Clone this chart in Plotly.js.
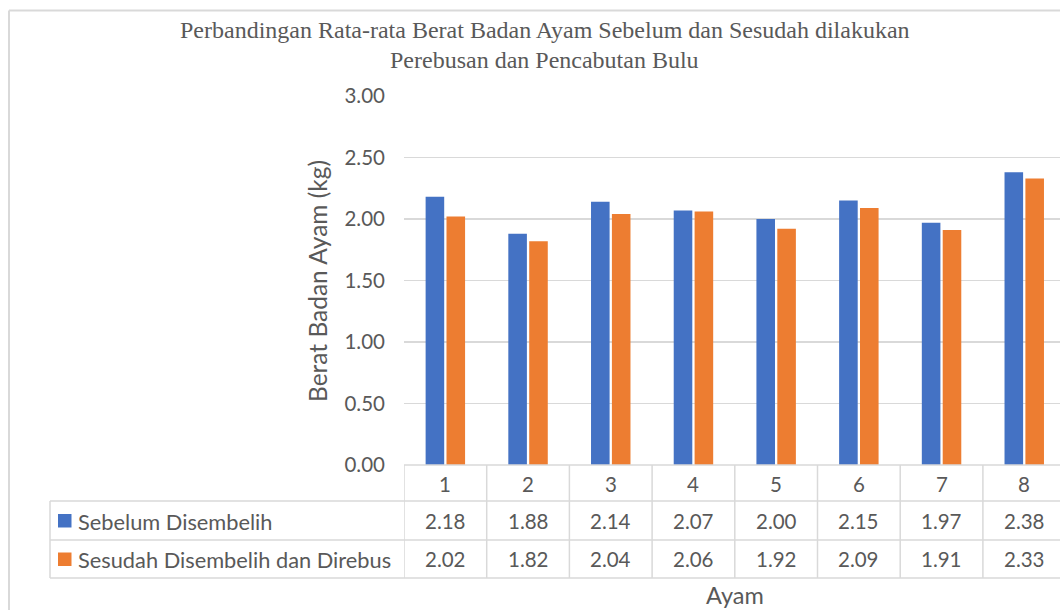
<!DOCTYPE html>
<html>
<head>
<meta charset="utf-8">
<script src="https://cdn.plot.ly/plotly-3.0.1.min.js"></script>
<style>
html,body{margin:0;padding:0;overflow:hidden;background:#fff;}
#chart{width:1070px;height:610px;}
</style>
</head>
<body>
<div id="chart"></div>
<script>
const categories = [1, 2, 3, 4, 5, 6, 7, 8];
const sebelum = [2.18, 1.88, 2.14, 2.07, 2.00, 2.15, 1.97, 2.38];
const sesudah = [2.02, 1.82, 2.04, 2.06, 1.92, 2.09, 1.91, 2.33];
const seriesNames = ["Sebelum Disembelih", "Sesudah Disembelih dan Direbus"];
const titleLines = ["Perbandingan Rata-rata Berat Badan Ayam Sebelum dan Sesudah dilakukan", "Perebusan dan Pencabutan Bulu"];
const yTitle = "Berat Badan Ayam (kg)";
const xTitle = "Ayam";

const W = 1070, H = 610;
const px = v => v / W;
const py = v => 1 - v / H;
const TXT = "#595959";
const GRID = "#d9d9d9";
const BLUE = "#4472C4", ORANGE = "#ED7D31";
const FONT = "Lato, 'Open Sans', sans-serif";
const SERIF = "'Liberation Serif', 'Times New Roman', serif";

const traces = [
  {type: "bar", name: seriesNames[0], x: categories, y: sebelum, marker: {color: BLUE}, hoverinfo: "x+y"},
  {type: "bar", name: seriesNames[1], x: categories, y: sesudah, marker: {color: ORANGE}, hoverinfo: "x+y"}
];

const shapes = [];
const line = (xref, x0, x1, yref, y0, y1, w) => shapes.push({type: "line", xref, yref, x0, x1, y0, y1, line: {color: GRID, width: w || 1.5}});
// chart border
line("paper", px(9), px(9), "paper", py(10.5), 0, 2);
line("paper", px(9), 1, "paper", py(10.5), py(10.5), 2);
// table horizontal lines
line("paper", px(404), 1, "paper", py(465), py(465));
[501, 540, 578].forEach(y => line("paper", px(50), 1, "paper", py(y), py(y)));
// table vertical lines
line("paper", px(50), px(50), "paper", py(501), py(578));
for (let k = 0; k <= categories.length; k++) {
  line("x", k + 0.5, k + 0.5, "paper", py(465), py(578));
}
// legend keys
shapes.push({type: "rect", xref: "paper", yref: "paper", x0: px(58), x1: px(71.5), y0: py(514), y1: py(527.5), fillcolor: BLUE, line: {width: 0}});
shapes.push({type: "rect", xref: "paper", yref: "paper", x0: px(58), x1: px(71.5), y0: py(552.5), y1: py(566), fillcolor: ORANGE, line: {width: 0}});

const annotations = [];
const ann = (o) => annotations.push(Object.assign({showarrow: false, font: {family: FONT, size: 20.5, color: TXT}}, o));
categories.forEach((c, i) => {
  ann({xref: "x", yref: "paper", x: c, y: py(484), text: String(c), xanchor: "center", yanchor: "middle"});
  ann({xref: "x", yref: "paper", x: c, y: py(521), text: sebelum[i].toFixed(2), xanchor: "center", yanchor: "middle"});
  ann({xref: "x", yref: "paper", x: c, y: py(559), text: sesudah[i].toFixed(2), xanchor: "center", yanchor: "middle"});
});
ann({xref: "paper", yref: "paper", x: px(76), y: py(521), text: seriesNames[0], xanchor: "left", yanchor: "middle", font: {family: FONT, size: 21.8, color: TXT}});
ann({xref: "paper", yref: "paper", x: px(76), y: py(559), text: seriesNames[1], xanchor: "left", yanchor: "middle", font: {family: FONT, size: 21.8, color: TXT}});
ann({xref: "paper", yref: "paper", x: px(734.8), y: py(609.5), text: xTitle, xanchor: "center", yanchor: "bottom", borderpad: 0, font: {family: FONT, size: 23.5, color: TXT}});
ann({xref: "paper", yref: "paper", x: px(317), y: py(281), text: yTitle, textangle: -90, xanchor: "center", yanchor: "middle", font: {family: FONT, size: 24.5, color: TXT}});
ann({xref: "paper", yref: "paper", x: px(545), y: py(30), text: titleLines[0], xanchor: "center", yanchor: "middle", font: {family: SERIF, size: 24, color: TXT}});
ann({xref: "paper", yref: "paper", x: px(544), y: py(60), text: titleLines[1], xanchor: "center", yanchor: "middle", font: {family: SERIF, size: 24, color: TXT}});

const layout = {
  width: W, height: H,
  margin: {l: 0, r: 0, t: 0, b: 0},
  paper_bgcolor: "#fff", plot_bgcolor: "#fff",
  showlegend: false,
  barmode: "group", bargap: 0.495, bargroupgap: 0.11,
  xaxis: {domain: [px(404), px(1065.6)], range: [0.5, 8.5], showticklabels: false, showgrid: false, zeroline: false, showline: false, ticks: "", fixedrange: true},
  yaxis: {domain: [py(465), py(96)], range: [0, 3], dtick: 0.5, tickformat: ".2f", showgrid: true, gridcolor: GRID, gridwidth: 1.5, zeroline: false, showline: false, ticks: "", ticklabelstandoff: 18, tickfont: {family: FONT, size: 20.5, color: TXT}, fixedrange: true},
  shapes, annotations
};

Plotly.newPlot("chart", traces, layout, {displayModeBar: false, staticPlot: true});
</script>
</body>
</html>
